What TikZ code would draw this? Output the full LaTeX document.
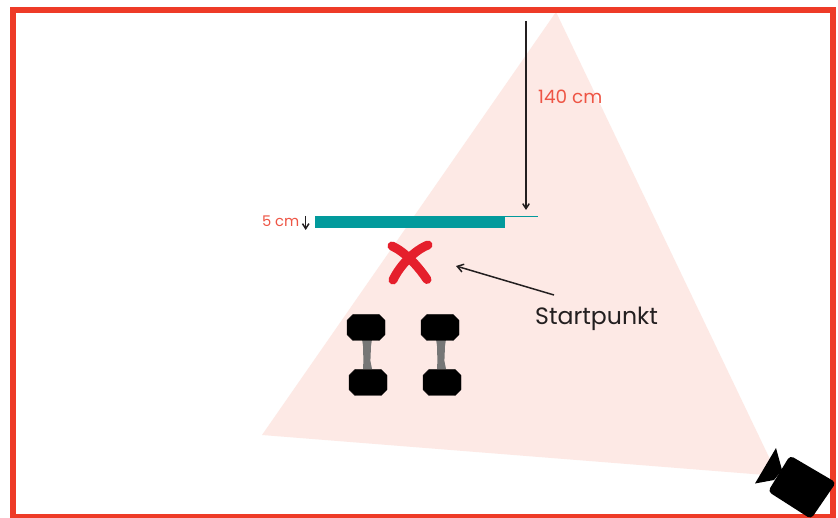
\documentclass[tikz,border=0pt]{standalone}
\usepackage{fontspec}
\setmainfont{Poppins}
\usetikzlibrary{arrows.meta}
\definecolor{framered}{HTML}{EE3B27}
\definecolor{conefill}{HTML}{FDE9E5}
\definecolor{barteal}{HTML}{029A9C}
\definecolor{crossred}{HTML}{E51F2C}
\definecolor{labelred}{HTML}{EE5545}
\definecolor{handlegrey}{HTML}{767676}
\definecolor{inkdark}{HTML}{231F20}
\tikzset{
  x=1pt,y=-1pt,
  frame/.style={draw=framered,line width=6pt},
  dim/.style={draw=inkdark,line width=1.5pt,-{Straight Barb[length=5pt,width=6.5pt]}},
  thinarrow/.style={draw=inkdark,line width=1.5pt,-{Straight Barb[length=6pt,width=8pt]}},
  redlabel/.style={text=labelred,inner sep=0pt},
  blacklabel/.style={text=inkdark,inner sep=0pt,font=\fontsize{23.6}{28}\selectfont},
  crossstroke/.style={draw=crossred,line width=9pt,line cap=round},
  weight/.style={fill=black,draw=black,line width=.4pt,line join=round},
}
\newcommand{\plate}[2]{%
  \fill[weight,shift={(#1,#2)}] (-13,-13) -- (13,-13) -- (19,-7) -- (19,7) -- (13,13) -- (-13,13) -- (-19,7) -- (-19,-7) -- cycle;}
\newcommand{\handle}[2]{%
  \fill[handlegrey,shift={(#1,#2)}] (-5,0) -- (5,0) -- (4,7) -- (3.4,22) -- (5,30) -- (-4,30) -- (-3.6,22) -- (-4,7) -- cycle;}
\begin{document}
\begin{tikzpicture}
\useasboundingbox (0,0) rectangle (838,518);
\fill[white] (0,0) rectangle (838,518);
\fill[conefill] (556,12) -- (262,435) -- (778,476) -- cycle;
\draw[frame] (13,10) rectangle (833,517);
% bar
\fill[barteal] (314.5,216) rectangle (505,228);
\draw[barteal,line width=.9pt] (505,216.6) -- (538,216.6);
% cross
\draw[crossstroke] (392,246) .. controls (405,252) and (418,266) .. (427,279.5);
\draw[crossstroke] (428,245) .. controls (415,250) and (400,265) .. (393,280);
% dumbbells
\handle{367}{339}
\handle{441}{339}
\plate{366}{327.5}
\plate{440}{327.5}
\plate{368}{382.5}
\plate{442}{382.5}
% camera
\fill[black,rounded corners=4pt] (790,455.5) -- (836,482.5) -- (811,519) -- (768,491.5) -- cycle;
\fill[black] (776,448) -- (782,470) -- (774,480) -- (755,483.5) -- cycle;
% labels
\node[redlabel,anchor=west,font=\fontsize{18.4}{22}\selectfont] (lbl140) at (538,97) {140 cm};
\node[redlabel,anchor=east,font=\fontsize{14.7}{18}\selectfont] (lbl5) at (299.5,221) {5 cm};
\node[blacklabel,anchor=west] (lblstart) at (535,319) {Startpunkt};
% arrows
\coordinate (a140s) at (526,21);
\coordinate (a140e) at (526,210);
\coordinate (a5s) at (305.7,216);
\coordinate (a5e) at (305.7,230);
\coordinate (starts) at (554,295);
\coordinate (starte) at (456,266);
\draw[dim] (a140s) -- (a140e);
\draw[dim] (a5s) -- (a5e);
\draw[thinarrow] (starts) -- (starte);
\end{tikzpicture}
\end{document}
